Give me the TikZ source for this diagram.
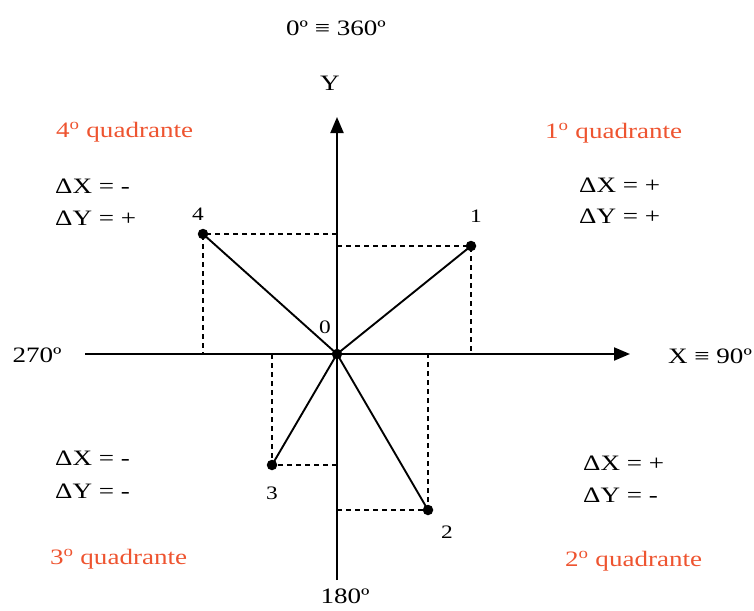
\documentclass[tikz,border=0pt]{standalone}
\usepackage{fontspec}
\setmainfont{Liberation Serif}[FakeStretch=1.23]
\usetikzlibrary{arrows.meta}
\definecolor{quad}{RGB}{238,84,48}
\begin{document}
\begin{tikzpicture}[x=1pt,y=-1pt,
  lbl/.style={font=\fontsize{22}{26}\selectfont, inner sep=0},
  quadlbl/.style={lbl, text=quad, anchor=base west},
  dlbl/.style={lbl, anchor=base west},
  small/.style={font=\fontsize{19}{22}\selectfont, inner sep=0, anchor=base},
  dot/.style={circle, fill, inner sep=0, minimum size=10.5pt},
  axis/.style={line width=2pt, -{Triangle[length=16pt,width=13pt]}},
  vec/.style={line width=1.9pt},
  proj/.style={line width=1.4pt, dash pattern=on 5pt off 4pt}]
\useasboundingbox (0,0) rectangle (754,610);
% axes
\coordinate (O) at (337,354);
\coordinate (xs) at (85,354);
\coordinate (xe) at (630,354);
\coordinate (ys) at (337,580);
\coordinate (ye) at (337,117);
\draw[axis] (xs) -- (xe);
\draw[axis] (ys) -- (ye);
% points
\node[dot] (p1) at (471,246) {};
\node[dot] (p2) at (428,510) {};
\node[dot] (p3) at (272,465) {};
\node[dot] (p4) at (203,234) {};
\node[dot] (o) at (O) {};
% projections
\coordinate (p1y) at (337,246); \coordinate (p1x) at (471,354);
\coordinate (p2y) at (337,510); \coordinate (p2x) at (428,354);
\coordinate (p3y) at (337,465); \coordinate (p3x) at (272,354);
\coordinate (p4y) at (337,234); \coordinate (p4x) at (203,354);
\draw[proj] (p1y) -- (p1.center) -- (p1x);
\draw[proj] (p2y) -- (p2.center) -- (p2x);
\draw[proj] (p3y) -- (p3.center) -- (p3x);
\draw[proj] (p4y) -- (p4.center) -- (p4x);
% vectors
\draw[vec] (o.center) -- (p1.center);
\draw[vec] (o.center) -- (p2.center);
\draw[vec] (o.center) -- (p3.center);
\draw[vec] (o.center) -- (p4.center);
% point labels
\node[small] (l1) at (476,222) {1};
\node[small] (l2) at (447,538) {2};
\node[small] (l3) at (272,499) {3};
\node[small] (l4) at (198,220) {4};
\node[small] (l0) at (325,333) {0};
% axis labels
\node[lbl, anchor=base] (t0) at (336,36) {0º ≡ 360º};
\node[lbl, anchor=base] (tY) at (330,90) {Y};
\node[lbl, anchor=base] (t270) at (37,362) {270º};
\node[lbl, anchor=base] (t90) at (710,363) {X ≡ 90º};
\node[lbl, anchor=base] (t180) at (345,603) {180º};
% quadrants
\node[quadlbl] (q4) at (56,137) {4\textsuperscript{o} quadrante};
\node[quadlbl] (q1) at (545,138) {1\textsuperscript{o} quadrante};
\node[quadlbl] (q3) at (50,564) {3\textsuperscript{o} quadrante};
\node[quadlbl] (q2) at (565,566) {2\textsuperscript{o} quadrante};
% deltas
\node[dlbl] (d4x) at (55,193) {ΔX = -};
\node[dlbl] (d4y) at (55,225) {ΔY = +};
\node[dlbl] (d1x) at (579,192) {ΔX = +};
\node[dlbl] (d1y) at (579,223) {ΔY = +};
\node[dlbl] (d3x) at (55,465) {ΔX = -};
\node[dlbl] (d3y) at (55,498) {ΔY = -};
\node[dlbl] (d2x) at (583,470) {ΔX = +};
\node[dlbl] (d2y) at (583,502) {ΔY = -};
\end{tikzpicture}
\end{document}
